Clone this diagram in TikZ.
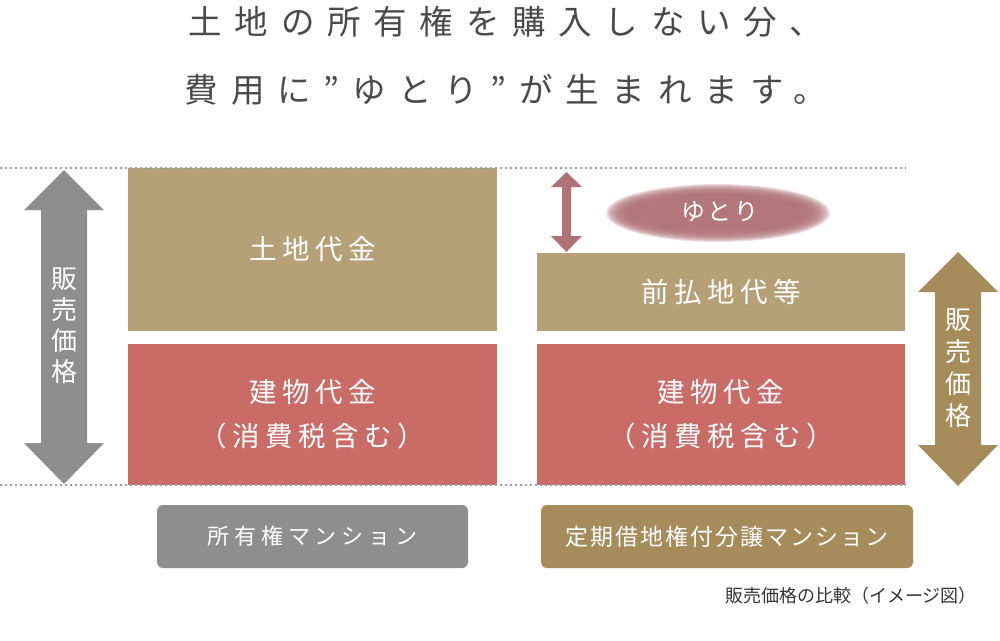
\documentclass[tikz,border=0pt]{standalone}
\usepackage{fontspec}
\setmainfont{Noto Sans CJK JP}
\newfontfamily\jpT[LetterSpace=38]{Noto Sans CJK JP}
\newfontfamily\jpB[LetterSpace=20]{Noto Sans CJK JP}
\newfontfamily\jpS[LetterSpace=12]{Noto Sans CJK JP}
\newfontfamily\jpL[LetterSpace=22]{Noto Sans CJK JP}
\newfontfamily\jpM[LetterSpace=9]{Noto Sans CJK JP}
\newfontfamily\jpC{Noto Sans CJK JP}
\definecolor{tan}{HTML}{B5A077}
\definecolor{brick}{HTML}{C96C67}
\definecolor{greyA}{HTML}{8E8E8E}
\definecolor{gold}{HTML}{A68B5B}
\definecolor{rose}{HTML}{B07276}
\definecolor{titlec}{HTML}{4A4A4A}
\definecolor{dotc}{HTML}{9A9A9A}
\tikzset{
  block/.style={inner sep=0pt, text=white, align=center},
  tag/.style={rounded corners=6pt, inner sep=0pt, text=white, minimum width=#1, minimum height=63pt},
  vtext/.style={text=white, align=center, inner sep=0pt},
  guide/.style={dotc, line width=1.3pt, dash pattern=on 2pt off 3pt}
}
\begin{document}
\begin{tikzpicture}[x=1pt,y=-1pt]
\useasboundingbox (0,0) rectangle (1000,640);
% title
\node[text=titlec, font=\jpT\fontsize{33.5}{33.5}\selectfont, inner sep=0pt] (t1) at (506,22) {土地の所有権を購入しない分、};
\node[text=titlec, font=\jpT\fontsize{33.5}{33.5}\selectfont, inner sep=0pt] (t2) at (506,90) {費用に”ゆとり”が生まれます。};
% boxes
\node[block, fill=tan, minimum width=369pt, minimum height=163pt, font=\jpB\fontsize{27.5}{27.5}\selectfont] (landL) at (312.5,249.5) {土地代金};
\node[block, fill=brick, minimum width=369pt, minimum height=141pt, font=\jpB\fontsize{27.5}{44}\selectfont] (bldL) at (312.5,414.5) {建物代金\\（消費税含む）};
\node[block, fill=tan, minimum width=368pt, minimum height=78pt, font=\jpB\fontsize{27.5}{27.5}\selectfont] (landR) at (721,292) {前払地代等};
\node[block, fill=brick, minimum width=368pt, minimum height=141pt, font=\jpB\fontsize{27.5}{44}\selectfont] (bldR) at (721,414.5) {建物代金\\（消費税含む）};
% guide lines
\coordinate (gTL) at (0,168); \coordinate (gTR) at (906,168);
\coordinate (gBL) at (0,485); \coordinate (gBR) at (906,485);
\draw[guide] (gTL) -- (gTR);
\draw[guide] (gBL) -- (gBR);
% left arrow
\fill[greyA] (64,170) -- (104,210) -- (87,210) -- (87,443) -- (104,443) -- (64,484) -- (24,443) -- (41,443) -- (41,210) -- (24,210) -- cycle;
\node[vtext, font=\jpC\fontsize{26}{31}\selectfont] (pL) at (64,326) {販\\売\\価\\格};
% right arrow
\fill[gold] (958,252) -- (998,292) -- (981,292) -- (981,445) -- (998,445) -- (958,486) -- (918,445) -- (935,445) -- (935,292) -- (918,292) -- cycle;
\node[vtext, font=\jpC\fontsize{26}{32}\selectfont] (pR) at (958,368) {販\\売\\価\\格};
% small arrow
\fill[rose] (566.5,172) -- (582,187) -- (571,187) -- (571,236) -- (582,236) -- (566.5,252) -- (551,236) -- (562,236) -- (562,187) -- (551,187) -- cycle;
% yutori blur
\foreach \i in {0,...,11}{
  \fill[rose, opacity=0.24] (718,213) ellipse [x radius={112pt-2*\i pt}, y radius={29pt-1*\i pt}];
}
\node[text=white, font=\jpS\fontsize{24}{24}\selectfont, inner sep=0pt] (yut) at (720,212) {ゆとり};
% tags
\node[tag=311pt, fill=greyA, font=\jpL\fontsize{22}{22}\selectfont] (tagL) at (312.5,536.5) {所有権マンション};
\node[tag=372pt, fill=gold, font=\jpM\fontsize{23}{23}\selectfont] (tagR) at (727,536.5) {定期借地権付分譲マンション};
% caption
\node[text=black!80, font=\jpC\fontsize{18}{18}\selectfont, inner sep=0pt, anchor=east] (cap) at (977,596) {販売価格の比較（イメージ図）};
\end{tikzpicture}
\end{document}
